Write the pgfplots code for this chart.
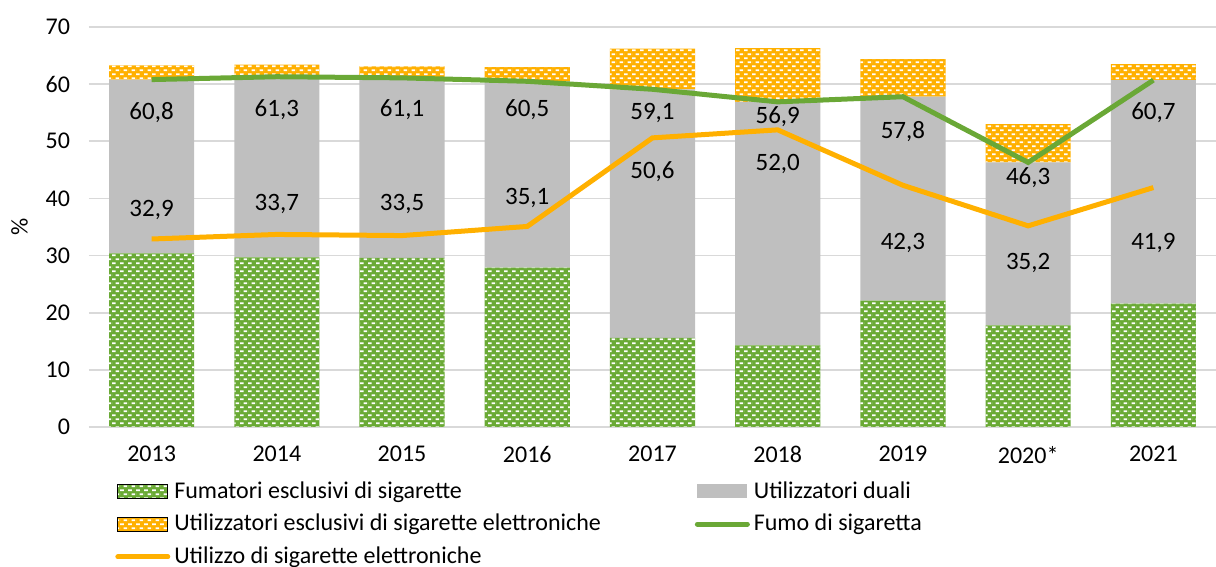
\documentclass[border=0pt]{standalone}
\usepackage{fontspec}
\setmainfont{Carlito}
\usepackage{pgfplots}
\pgfplotsset{compat=1.18}
\usetikzlibrary{patterns}
\definecolor{cgreen}{HTML}{6AAA35}
\definecolor{clgreen}{HTML}{6AA836}
\definecolor{corange}{HTML}{FFB000}
\definecolor{cgrey}{HTML}{BFBFBF}
\definecolor{gridgrey}{HTML}{D9D9D9}
\pgfdeclarepatternformonly{wdash}{\pgfqpoint{0pt}{0pt}}{\pgfqpoint{4pt}{4.2pt}}{\pgfqpoint{4pt}{4.2pt}}{%
  \pgfpathrectangle{\pgfqpoint{0pt}{0.5pt}}{\pgfqpoint{2.1pt}{0.9pt}}%
  \pgfpathrectangle{\pgfqpoint{2pt}{2.6pt}}{\pgfqpoint{2pt}{0.9pt}}%
  \pgfpathrectangle{\pgfqpoint{0pt}{2.6pt}}{\pgfqpoint{0.1pt}{0.9pt}}%
  \pgfusepath{fill}}
\newcommand{\fs}{\fontsize{12}{14}\selectfont}
\begin{document}
\begin{tikzpicture}
\useasboundingbox (-44.5pt,-70pt) rectangle (563.5pt,213.5pt);
\begin{axis}[
  at={(0,0)}, anchor=south west,
  scale only axis, width=563.5pt, height=200pt,
  xmin=-0.5, xmax=8.5, ymin=0, ymax=70,
  ybar stacked, bar width=0.68,
  xtick={0,...,8},
  xticklabels={2013,2014,2015,2016,2017,2018,2019,2020*,2021},
  ytick={0,10,...,70},
  axis line style={draw=none},
  major tick length=0pt,
  ymajorgrids, grid style={color=gridgrey, line width=0.8pt},
  tick label style={font=\fs},
  /pgf/number format/assume math mode=true,
  xticklabel style={yshift=-6pt},
  yticklabel style={xshift=-6pt},
  ylabel={\%}, ylabel style={font=\fs, yshift=2pt},
]
\addplot[fill=cgreen, draw=none, postaction={pattern=wdash, pattern color=white}] coordinates
  {(0,30.4) (1,29.7) (2,29.6) (3,27.9) (4,15.6) (5,14.3) (6,22.1) (7,17.8) (8,21.6)};
\addplot[fill=cgrey, draw=none] coordinates
  {(0,30.4) (1,31.6) (2,31.5) (3,32.6) (4,43.5) (5,42.6) (6,35.7) (7,28.5) (8,39.1)};
\addplot[fill=corange, draw=none, postaction={pattern=wdash, pattern color=white}] coordinates
  {(0,2.5) (1,2.1) (2,2.0) (3,2.5) (4,7.1) (5,9.4) (6,6.6) (7,6.7) (8,2.8)};
\end{axis}
\begin{axis}[
  at={(0,0)}, anchor=south west,
  scale only axis, width=563.5pt, height=200pt,
  xmin=-0.5, xmax=8.5, ymin=0, ymax=70,
  hide axis,
  legend columns=2,
  legend cell align=left,
  legend style={at={(0.023,-0.125)}, anchor=north west, draw=none, fill=none,
    font=\fs, row sep=2.6pt, inner sep=0pt,
    /tikz/every even column/.append style={column sep=45pt}},
]
\addlegendimage{legend image code/.code={\draw[fill=cgreen, draw=none, postaction={pattern=wdash, pattern color=white}] (0pt,-3.5pt) rectangle (25pt,3.5pt);}}
\addlegendentry{Fumatori esclusivi di sigarette}
\addlegendimage{legend image code/.code={\draw[fill=cgrey, draw=none] (0pt,-3.5pt) rectangle (25pt,3.5pt);}}
\addlegendentry{Utilizzatori duali}
\addlegendimage{legend image code/.code={\draw[fill=corange, draw=none, postaction={pattern=wdash, pattern color=white}] (0pt,-3.5pt) rectangle (25pt,3.5pt);}}
\addlegendentry{Utilizzatori esclusivi di sigarette elettroniche}
\addlegendimage{legend image code/.code={\draw[clgreen, line width=2.5pt, line cap=round] (0pt,0pt) -- (25pt,0pt);}}
\addlegendentry{Fumo di sigaretta}
\addlegendimage{legend image code/.code={\draw[corange, line width=2.5pt, line cap=round] (0pt,0pt) -- (25pt,0pt);}}
\addlegendentry{Utilizzo di sigarette elettroniche}
\addplot[clgreen, line width=2.5pt, mark=none, forget plot] coordinates
  {(0,60.8) (1,61.3) (2,61.1) (3,60.5) (4,59.1) (5,56.9) (6,57.8) (7,46.3) (8,60.7)};
\addplot[corange, line width=2.5pt, mark=none, forget plot] coordinates
  {(0,32.9) (1,33.7) (2,33.5) (3,35.1) (4,50.6) (5,52.0) (6,42.3) (7,35.2) (8,41.9)};
\addplot[draw=none, mark=none, forget plot, nodes near coords, point meta=explicit symbolic,
  nodes near coords style={anchor=center, font=\fontsize{12.5}{14}\selectfont, text=black}]
  table[meta=label] {
x y label
0 55.0 60,8
1 55.5 61,3
2 55.5 61,1
3 55.5 60,5
4 55.0 59,1
5 54.3 56,9
6 51.7 57,8
7 43.6 46,3
8 55.0 60,7
0 38.0 32,9
1 39.0 33,7
2 39.0 33,5
3 40.1 35,1
4 44.7 50,6
5 46.1 52,0
6 32.2 42,3
7 28.7 35,2
8 32.2 41,9
};
\end{axis}
\end{tikzpicture}
\end{document}
